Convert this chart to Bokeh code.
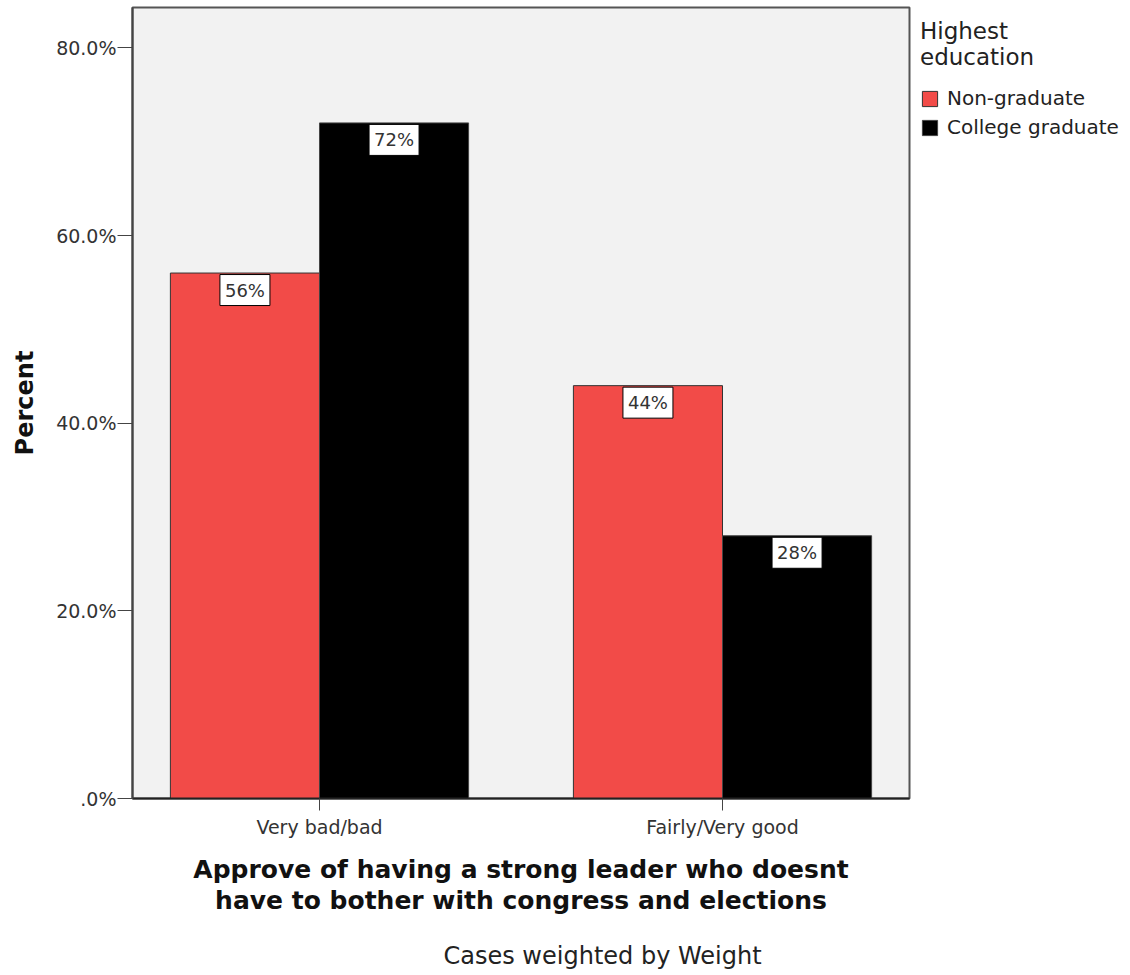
from bokeh.plotting import figure
from bokeh.models import (ColumnDataSource, Range1d, FixedTicker, Legend, LegendItem, Label, Title)
from bokeh.transform import dodge
from bokeh.embed import file_html
from bokeh.resources import INLINE

# ---- data ----
categories = ["Very bad/bad", "Fairly/Very good"]
series = ["Non-graduate", "College graduate"]
non_graduate = [56, 44]
college_graduate = [72, 28]
y_ticks = [0, 20, 40, 60, 80]
y_tick_labels = [".0%", "20.0%", "40.0%", "60.0%", "80.0%"]
legend_title = "Highest\neducation"
x_title = "Approve of having a strong leader who doesnt\nhave to bother with congress and elections"
y_title = "Percent"
footer = "Cases weighted by Weight"

FONT = "DejaVu Sans"
RED = "#f24b48"
BLACK = "#000000"
BAR_W = 0.37
OFF = BAR_W / 2

x_pos = list(range(len(categories)))
src = ColumnDataSource(dict(x=x_pos, ng=non_graduate, cg=college_graduate))

p = figure(frame_width=777, frame_height=791,
           x_range=Range1d(-0.464, 1.464), y_range=Range1d(0, 84.3),
           output_backend="svg", toolbar_location=None,
           min_border_left=132, min_border_right=205,
           min_border_top=7, min_border_bottom=168,
           background_fill_color="#f2f2f2", border_fill_color="white",
           outline_line_color="#555555", outline_line_width=2)

r1 = p.vbar(x=dodge("x", -OFF, range=p.x_range), top="ng", width=BAR_W, bottom=0,
            source=src, fill_color=RED, line_color="#333333", line_width=1)
r2 = p.vbar(x=dodge("x", OFF, range=p.x_range), top="cg", width=BAR_W, bottom=0,
            source=src, fill_color=BLACK, line_color="#444444", line_width=1)

# value labels
for vals, off in ((non_graduate, -OFF), (college_graduate, OFF)):
    for i, v in enumerate(vals):
        p.add_layout(Label(x=x_pos[i] + off, y=v, text=f"{v}%", y_offset=-17,
                           text_align="center", text_baseline="middle",
                           text_font=FONT, text_font_size="18px", text_color="#333333",
                           background_fill_color="white", border_line_color="black",
                           border_line_width=1, padding=5))

p.grid.visible = False

# x axis
xa = p.xaxis[0]
xa.ticker = FixedTicker(ticks=x_pos)
xa.major_label_overrides = {i: c for i, c in zip(x_pos, categories)}
xa.minor_tick_line_color = None
xa.major_tick_in = 0
xa.major_tick_out = 12
xa.major_tick_line_color = "#444444"
xa.axis_line_color = "#222222"
xa.axis_line_width = 2
xa.major_label_text_font = FONT
xa.major_label_text_font_size = "19px"
xa.major_label_text_color = "#333333"
xa.major_label_standoff = 5
xa.axis_label = x_title
xa.axis_label_text_font = FONT
xa.axis_label_text_font_style = "bold"
xa.axis_label_text_font_size = "25px"
xa.axis_label_text_line_height = 1.1
xa.axis_label_text_color = "#111111"
xa.axis_label_standoff = 14

# y axis
ya = p.yaxis[0]
ya.ticker = FixedTicker(ticks=y_ticks)
ya.major_label_overrides = {t: l for t, l in zip(y_ticks, y_tick_labels)}
ya.minor_tick_line_color = None
ya.major_tick_in = 0
ya.major_tick_out = 15
ya.major_tick_line_color = "#444444"
ya.axis_line_color = "#444444"
ya.axis_line_width = 2
ya.major_label_text_font = FONT
ya.major_label_text_font_size = "19px"
ya.major_label_text_color = "#333333"
ya.major_label_standoff = 1
ya.axis_label = y_title
ya.axis_label_text_font = FONT
ya.axis_label_text_font_style = "bold"
ya.axis_label_text_font_size = "24px"
ya.axis_label_text_color = "#111111"
ya.axis_label_standoff = 14

# legend
legend = Legend(items=[LegendItem(label=series[0], renderers=[r1]),
                       LegendItem(label=series[1], renderers=[r2])],
                title=legend_title,
                title_text_font=FONT, title_text_font_size="23px",
                title_text_font_style="normal",
                title_text_color="#222222", title_text_line_height=1.3,
                title_standoff=16,
                location="top_left", margin=11, padding=4,
                glyph_width=19, glyph_height=19, label_height=19,
                label_standoff=8, spacing=5,
                label_text_font=FONT, label_text_font_size="20px",
                label_text_color="#222222",
                border_line_color=None, background_fill_color=None)
p.add_layout(legend, "right")

# footer
p.add_layout(Title(text=footer, align="left", offset=311, standoff=43,
                   text_font=FONT, text_font_size="24px", text_font_style="normal",
                   text_color="#222222"), "below")

open("out.html", "w").write(file_html(p, INLINE))
